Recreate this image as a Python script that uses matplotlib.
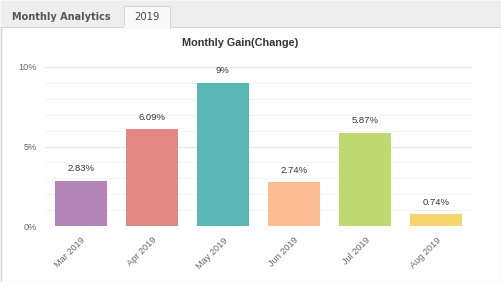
import matplotlib.pyplot as plt
from matplotlib.patches import Rectangle

meses = ["Mar 2019", "Apr 2019", "May 2019", "Jun 2019", "Jul 2019", "Aug 2019"]
ganancia = [2.83, 6.09, 9.0, 2.74, 5.87, 0.74]
etiquetas = ["2.83%", "6.09%", "9%", "2.74%", "5.87%", "0.74%"]
colores = ["#b384b5", "#e48886", "#5bb7b5", "#fdbd94", "#bfd86f", "#f7d56d"]
ticks_y = [0, 5, 10]

W, H = 502, 282
fig = plt.figure(figsize=(W / 100, H / 100), dpi=100)
fig.patch.set_facecolor("white")


def caja(x, y, w, h, **kw):
    # rectangulo en pixeles (origen arriba a la izquierda)
    fig.patches.append(Rectangle((x / W, 1 - (y + h) / H), w / W, h / H,
                                 transform=fig.transFigure, zorder=-5, **kw))


# marco y cabecera
caja(0.5, 0.5, W - 1, H - 1, facecolor="white", edgecolor="#d6d6d6", lw=1)
caja(1, 1, W - 2, 26, facecolor="#eeeeee", edgecolor="none")
caja(1, 27, W - 2, 0.6, facecolor="#d6d6d6", edgecolor="none")
caja(124, 6, 46, 22, facecolor="#f9f9f9", edgecolor="#d6d6d6", lw=0.8)
caja(124.5, 26.5, 45, 2, facecolor="#f9f9f9", edgecolor="none")
fig.text(12 / W, 1 - 17 / H, "Monthly Analytics", fontsize=7.0, fontweight="bold",
         color="#555555", family="DejaVu Sans", va="center")
fig.text(147 / W, 1 - 17 / H, "2019", fontsize=7.2, color="#444444",
         family="DejaVu Sans", va="center", ha="center")

ax = fig.add_axes([45 / W, 56 / H, 427 / W, 159 / H])
ax.set_facecolor("none")
x = range(len(meses))
barras = ax.bar(x, ganancia, width=0.73, color=colores, zorder=3)
for b, t in zip(barras, etiquetas):
    ax.annotate(t, (b.get_x() + b.get_width() / 2, b.get_height()),
                xytext=(0, 5.5), textcoords="offset points", ha="center",
                va="bottom", fontsize=6.8, color="#333333", family="Liberation Sans")

ax.set_xlim(-0.5, 5.5)
ax.set_ylim(0, 10)
ax.set_yticks(ticks_y)
ax.set_yticklabels([f"{v}%" for v in ticks_y], fontsize=6.6, color="#666666",
                   family="Liberation Sans")
ax.set_yticks(range(0, 11), minor=True)
ax.grid(axis="y", which="major", color="#e6e6e6", lw=0.8, zorder=0)
ax.grid(axis="y", which="minor", color="#f2f2f2", lw=0.6, zorder=0)
ax.set_xticks(list(x))
ax.set_xticklabels(meses, rotation=45, ha="right", rotation_mode="anchor",
                   fontsize=6.6, color="#666666", family="Liberation Sans")
ax.tick_params(which="both", length=0, pad=7)
ax.tick_params(axis="y", pad=6)
for s in ax.spines.values():
    s.set_visible(False)

fig.text(240 / W, 1 - 43 / H, "Monthly Gain(Change)", fontsize=7.8, fontweight="bold",
         color="#333333", family="Liberation Sans", ha="center", va="center")

fig.savefig("out.png", dpi=100)
